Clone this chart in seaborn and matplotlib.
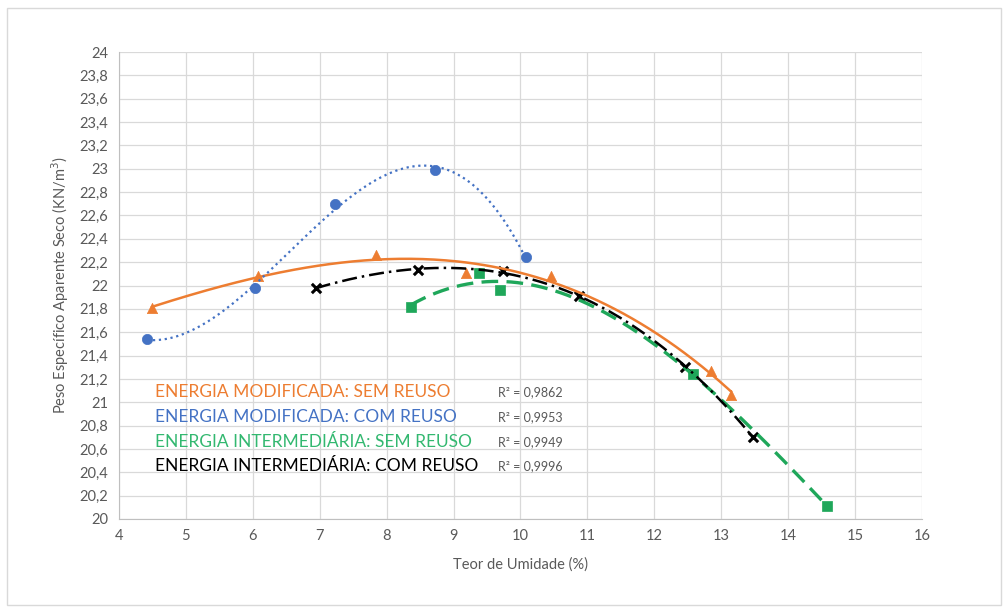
import numpy as np
import pandas as pd
import matplotlib.pyplot as plt
import seaborn as sns
from matplotlib.ticker import MultipleLocator, FuncFormatter
from matplotlib.patches import Rectangle

# dados
mod_sem_x = [4.49, 6.08, 7.84, 9.19, 10.45, 12.85, 13.15]
mod_sem_y = [21.81, 22.08, 22.26, 22.11, 22.08, 21.27, 21.06]

mod_com_x = [4.42, 6.04, 7.23, 8.72, 10.08]
mod_com_y = [21.54, 21.98, 22.70, 22.99, 22.24]

int_sem_x = [8.36, 9.38, 9.70, 12.58, 14.58]
int_sem_y = [21.82, 22.11, 21.96, 21.24, 20.11]

int_com_x = [6.94, 8.47, 9.74, 10.88, 12.46, 13.48]
int_com_y = [21.98, 22.13, 22.12, 21.91, 21.30, 20.70]

labels = ['ENERGIA MODIFICADA: SEM REUSO', 'ENERGIA MODIFICADA: COM REUSO',
          'ENERGIA INTERMEDIÁRIA: SEM REUSO', 'ENERGIA INTERMEDIÁRIA: COM REUSO']
r2_labels = ['R² = 0,9862', 'R² = 0,9953', 'R² = 0,9949', 'R² = 0,9996']

sns.set_style('white')
plt.rcParams['font.family'] = ['Lato', 'DejaVu Sans']

fig = plt.figure(figsize=(10.04, 6.07), dpi=100)
ax = fig.add_axes([0.1185, 0.145, 0.7998, 0.7693])

# borda do grafico
fig.patches.append(Rectangle((0.007, 0.004), 0.99, 0.982, transform=fig.transFigure,
                             fill=False, edgecolor='#d9d9d9', linewidth=1))

series = [
    (mod_sem_x, mod_sem_y, '#ED7D31', '^', '-', 3, 1.8),
    (mod_com_x, mod_com_y, '#4472C4', 'o', ':', 3, 1.6),
    (int_sem_x, int_sem_y, '#1FA75A', 's', (0, (5, 2.5)), 3, 2.4),
    (int_com_x, int_com_y, '#000000', 'x', (0, (6, 2, 1, 2)), 3, 1.8),
]

for xs, ys, color, marker, ls, order, lw in series:
    # linha de tendencia polinomial (como no Excel)
    coef = np.polyfit(xs, ys, order)
    xf = np.linspace(min(xs), max(xs), 200)
    fit = pd.DataFrame({'x': xf, 'y': np.polyval(coef, xf)})
    df = pd.DataFrame({'x': xs, 'y': ys})
    if marker == 'x':
        sns.scatterplot(data=df, x='x', y='y', ax=ax, color=color, marker=marker,
                        s=45, linewidth=2.2, zorder=3)
    else:
        sns.scatterplot(data=df, x='x', y='y', ax=ax, color=color, marker=marker,
                        s=55, edgecolor=color, linewidth=0.5, zorder=3)
    sns.lineplot(data=fit, x='x', y='y', ax=ax, color=color, linewidth=lw, linestyle=ls,
                 zorder=4, sort=False)

ax.set_xlim(4, 16)
ax.set_ylim(20, 24)
ax.xaxis.set_major_locator(MultipleLocator(1))
ax.xaxis.set_minor_locator(MultipleLocator(0.2))
ax.yaxis.set_major_locator(MultipleLocator(0.2))
ax.yaxis.set_minor_locator(MultipleLocator(0.1))
ax.yaxis.set_major_formatter(FuncFormatter(
    lambda v, p: ('%.1f' % v).rstrip('0').rstrip('.').replace('.', ',')))

ax.grid(True, which='major', color='#d9d9d9', linewidth=0.9)
for s in ['top', 'right']:
    ax.spines[s].set_visible(False)
for s in ['left', 'bottom']:
    ax.spines[s].set_color('#bfbfbf')
ax.tick_params(which='major', direction='inout', length=9, color='#bfbfbf',
               labelsize=10.5, labelcolor='#595959', pad=3)
ax.tick_params(which='minor', direction='inout', length=6, color='#bfbfbf')

ax.set_xlabel('Teor de Umidade (%)', fontsize=10.5, color='#595959', labelpad=10)
ax.set_ylabel('Peso Específico Aparente Seco (KN/m$^3$)', fontsize=10.5, color='#595959', labelpad=6)

text_colors = ['#ED7D31', '#4472C4', '#33B870', '#000000']
ys_txt = [21.09, 20.87, 20.66, 20.45]
for lab, r2, c, yt in zip(labels, r2_labels, text_colors, ys_txt):
    ax.text(4.54, yt, lab, color=c, fontsize=12.5, va='center', ha='left', zorder=5)
    ax.text(9.66, yt, r2, color='#595959', fontsize=9, va='center', ha='left', zorder=5)

fig.savefig('out.png', dpi=100)
